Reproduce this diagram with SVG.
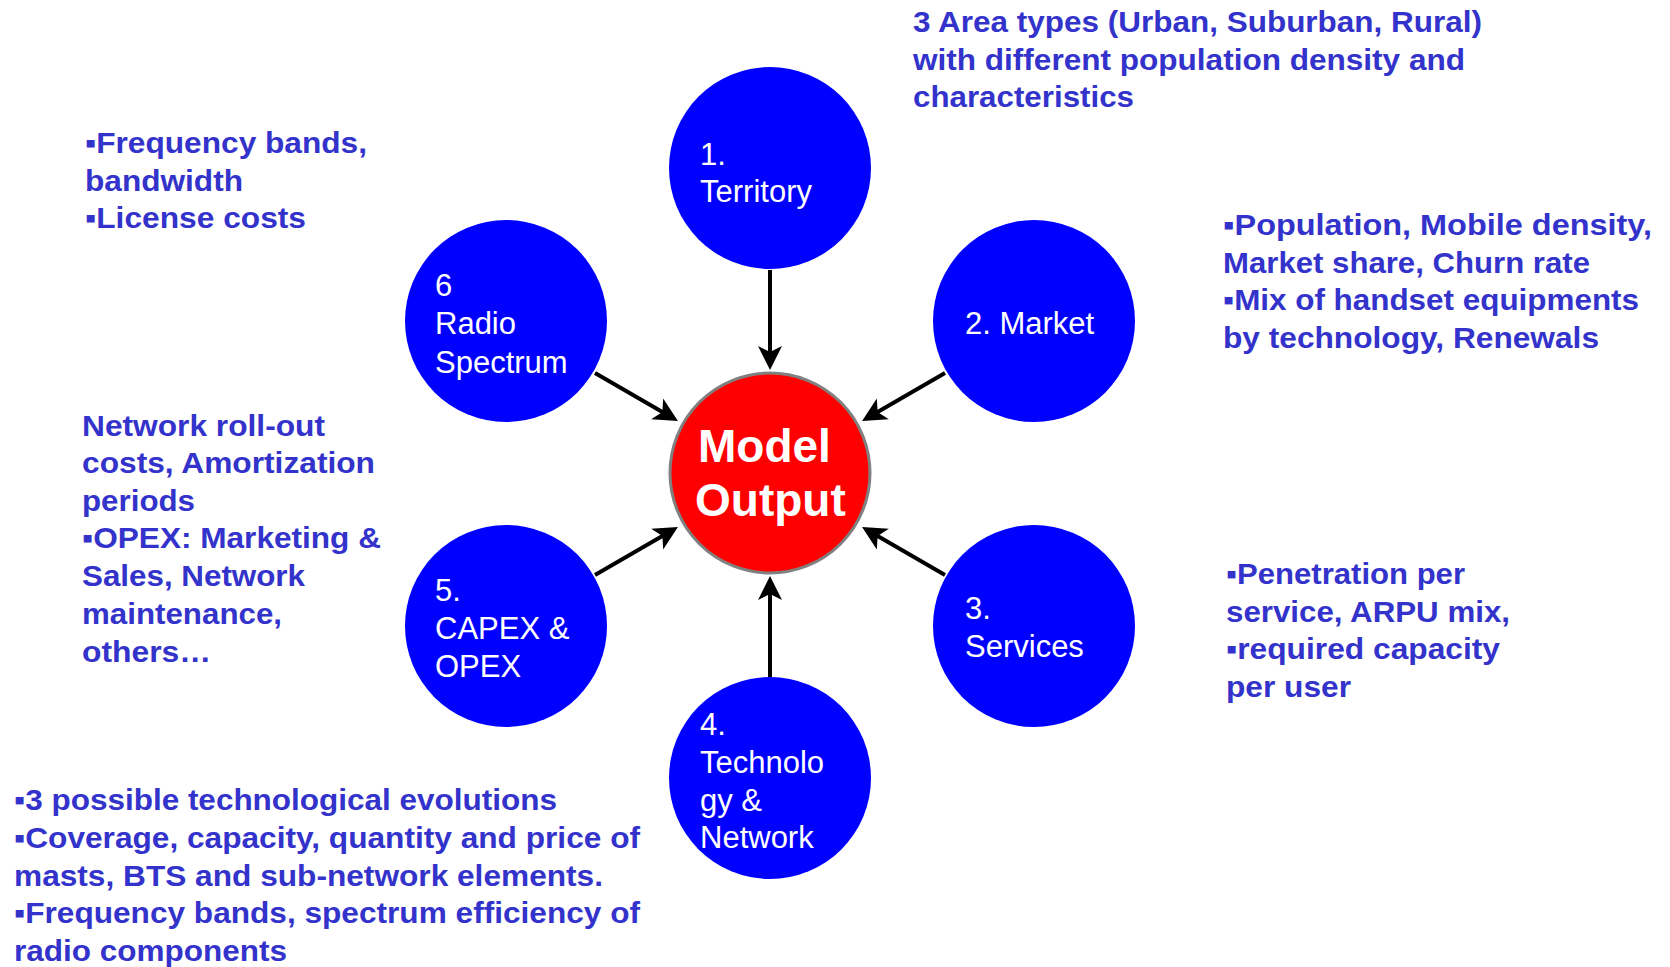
<svg xmlns="http://www.w3.org/2000/svg" width="1670" height="967" viewBox="0 0 1670 967">
  <style>
    .node { fill: #0000FF; }
    .hub { fill: #FF0000; stroke: #808080; stroke-width: 3; }
    .lbl { font-family: "Liberation Sans", Arial, sans-serif; font-size: 31px; fill: #FFFFFF; }
    .hubtxt { font-family: "Liberation Sans", Arial, sans-serif; font-size: 46px; font-weight: bold; fill: #FFFFFF; }
    .note { font-family: "Liberation Sans", Arial, sans-serif; font-size: 30px; font-weight: bold; fill: #3333CC; }
    .conn { stroke: #000000; stroke-width: 4; fill: none; marker-end: url(#head); }
  </style>
  <defs>
    <marker id="head" markerUnits="userSpaceOnUse" markerWidth="40" markerHeight="40" refX="0" refY="0" orient="auto" overflow="visible" viewBox="-20 -20 40 40">
      <path d="M10,0 L-14,-12 L-8,0 L-14,12 Z" fill="#000000"/>
    </marker>
  </defs>
  <rect width="1670" height="967" fill="#FFFFFF"/>

  <!-- connectors: every input points at the central output -->
  <g id="connectors">
    <line class="conn" x1="770" y1="270" x2="770" y2="360"/>
    <line class="conn" x1="945" y1="373" x2="870.7" y2="416"/>
    <line class="conn" x1="595" y1="373" x2="669.3" y2="416"/>
    <line class="conn" x1="595" y1="575" x2="669.3" y2="532"/>
    <line class="conn" x1="945" y1="575" x2="870.7" y2="532"/>
    <line class="conn" x1="770" y1="677" x2="770" y2="586"/>
  </g>

  <g id="model-output">
    <circle class="hub" cx="770" cy="473" r="100"/>
    <text class="hubtxt" x="698" y="462">Model</text>
    <text class="hubtxt" x="695" y="516">Output</text>
  </g>

  <g id="territory">
    <circle class="node" cx="770" cy="168" r="101"/>
    <text class="lbl" x="700" y="165">1.</text>
    <text class="lbl" x="700" y="202">Territory</text>
  </g>

  <g id="market">
    <circle class="node" cx="1034" cy="321" r="101"/>
    <text class="lbl" x="965" y="334">2. Market</text>
  </g>

  <g id="services">
    <circle class="node" cx="1034" cy="626" r="101"/>
    <text class="lbl" x="965" y="619">3.</text>
    <text class="lbl" x="965" y="657">Services</text>
  </g>

  <g id="technology">
    <circle class="node" cx="770" cy="778" r="101"/>
    <text class="lbl" x="700" y="735">4.</text>
    <text class="lbl" x="700" y="773">Technolo</text>
    <text class="lbl" x="700" y="811">gy &amp;</text>
    <text class="lbl" x="700" y="848">Network</text>
  </g>

  <g id="capex-opex">
    <circle class="node" cx="506" cy="626" r="101"/>
    <text class="lbl" x="435" y="601">5.</text>
    <text class="lbl" x="435" y="639">CAPEX &amp;</text>
    <text class="lbl" x="435" y="677">OPEX</text>
  </g>

  <g id="radio-spectrum">
    <circle class="node" cx="506" cy="321" r="101"/>
    <text class="lbl" x="435" y="296">6</text>
    <text class="lbl" x="435" y="334">Radio</text>
    <text class="lbl" x="435" y="373">Spectrum</text>
  </g>

  <!-- descriptive notes beside each input -->
  <g id="note-territory">
    <text class="note" x="913" y="32" textLength="569" lengthAdjust="spacingAndGlyphs">3 Area types (Urban, Suburban, Rural)</text>
    <text class="note" x="913" y="70" textLength="552" lengthAdjust="spacingAndGlyphs">with different population density and</text>
    <text class="note" x="913" y="107" textLength="221" lengthAdjust="spacingAndGlyphs">characteristics</text>
  </g>

  <g id="note-radio">
    <text class="note" x="85" y="153" textLength="282" lengthAdjust="spacingAndGlyphs">▪Frequency bands,</text>
    <text class="note" x="85" y="191" textLength="158" lengthAdjust="spacingAndGlyphs">bandwidth</text>
    <text class="note" x="85" y="228" textLength="221" lengthAdjust="spacingAndGlyphs">▪License costs</text>
  </g>

  <g id="note-market">
    <text class="note" x="1223" y="235" textLength="429" lengthAdjust="spacingAndGlyphs">▪Population,  Mobile density,</text>
    <text class="note" x="1223" y="273" textLength="367" lengthAdjust="spacingAndGlyphs">Market share, Churn rate</text>
    <text class="note" x="1223" y="310" textLength="416" lengthAdjust="spacingAndGlyphs">▪Mix of handset equipments</text>
    <text class="note" x="1223" y="348" textLength="376" lengthAdjust="spacingAndGlyphs">by technology, Renewals</text>
  </g>

  <g id="note-capex">
    <text class="note" x="82" y="436" textLength="243" lengthAdjust="spacingAndGlyphs">Network roll-out</text>
    <text class="note" x="82" y="473" textLength="293" lengthAdjust="spacingAndGlyphs">costs, Amortization</text>
    <text class="note" x="82" y="511" textLength="113" lengthAdjust="spacingAndGlyphs">periods</text>
    <text class="note" x="82" y="548" textLength="299" lengthAdjust="spacingAndGlyphs">▪OPEX: Marketing &amp;</text>
    <text class="note" x="82" y="586" textLength="223" lengthAdjust="spacingAndGlyphs">Sales, Network</text>
    <text class="note" x="82" y="624" textLength="200" lengthAdjust="spacingAndGlyphs">maintenance,</text>
    <text class="note" x="82" y="662" textLength="129" lengthAdjust="spacingAndGlyphs">others…</text>
  </g>

  <g id="note-services">
    <text class="note" x="1226" y="584" textLength="239" lengthAdjust="spacingAndGlyphs">▪Penetration per</text>
    <text class="note" x="1226" y="622" textLength="284" lengthAdjust="spacingAndGlyphs">service, ARPU mix,</text>
    <text class="note" x="1226" y="659" textLength="274" lengthAdjust="spacingAndGlyphs">▪required capacity</text>
    <text class="note" x="1226" y="697" textLength="125" lengthAdjust="spacingAndGlyphs">per user</text>
  </g>

  <g id="note-technology">
    <text class="note" x="14" y="810" textLength="543" lengthAdjust="spacingAndGlyphs">▪3 possible technological evolutions</text>
    <text class="note" x="14" y="848" textLength="626" lengthAdjust="spacingAndGlyphs">▪Coverage, capacity, quantity and price of</text>
    <text class="note" x="14" y="886" textLength="589" lengthAdjust="spacingAndGlyphs">masts, BTS and sub-network elements.</text>
    <text class="note" x="14" y="923" textLength="626" lengthAdjust="spacingAndGlyphs">▪Frequency bands, spectrum efficiency of</text>
    <text class="note" x="14" y="961" textLength="273" lengthAdjust="spacingAndGlyphs">radio components</text>
  </g>
</svg>
